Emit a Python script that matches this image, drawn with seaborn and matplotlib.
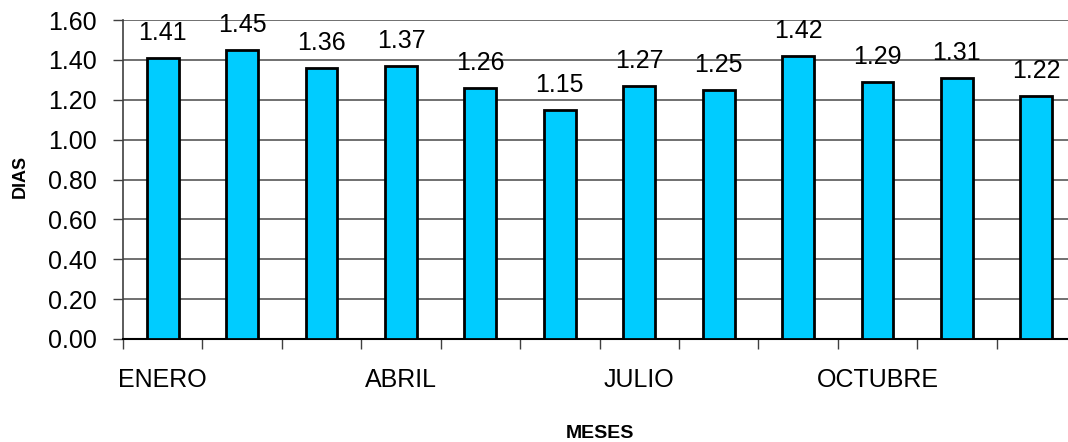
import pandas as pd
import numpy as np
import matplotlib
matplotlib.use("Agg")
import matplotlib.pyplot as plt
import seaborn as sns

# ── Data ─────────────────────────────────────────────────
meses = ["ENERO", "FEBRERO", "MARZO", "ABRIL", "MAYO", "JUNIO",
         "JULIO", "AGOSTO", "SEPTIEMBRE", "OCTUBRE", "NOVIEMBRE", "DICIEMBRE"]
dias = [1.41, 1.45, 1.36, 1.37, 1.26, 1.15, 1.27, 1.25, 1.42, 1.29, 1.31, 1.22]
etiquetas_x = ["ENERO", "ABRIL", "JULIO", "OCTUBRE"]
y_ticks = [0.0, 0.2, 0.4, 0.6, 0.8, 1.0, 1.2, 1.4, 1.6]

df = pd.DataFrame({"mes": meses, "dias": dias})

# ── Style ────────────────────────────────────────────────
sns.set_theme(style="white")
plt.rcParams["font.family"] = ["Liberation Sans", "DejaVu Sans"]
plt.rcParams["text.color"] = "black"
plt.rcParams["xtick.color"] = "black"
plt.rcParams["ytick.color"] = "black"

fig = plt.figure(figsize=(10.68, 4.42), dpi=100)
ax = fig.add_axes([123 / 1068, 103 / 442, 953 / 1068, 319 / 442])

sns.barplot(data=df, x="mes", y="dias", order=meses, color="#00CCFF",
            edgecolor="black", linewidth=2.0, width=0.4, saturation=1,
            ax=ax, zorder=3)

# value labels
for i, v in enumerate(dias):
    ax.annotate(f"{v:.2f}", (i, v), xytext=(0, 13), textcoords="offset points",
                ha="center", va="baseline", fontsize=18, color="black")

ax.set_xlim(-0.5, len(meses) - 0.5)
ax.set_ylim(0, 1.6)
ax.set_yticks(y_ticks)
ax.set_yticklabels([f"{t:.2f}" for t in y_ticks])
ax.yaxis.grid(True, color="#707070", lw=1.4, zorder=0)
ax.set_axisbelow(True)

# category axis: ticks between categories, labels every third month
ax.set_xticks(np.arange(-0.5, len(meses), 1.0))
ax.set_xticklabels([])
pos = [meses.index(m) for m in etiquetas_x]
ax.set_xticks(pos, minor=True)
ax.set_xticklabels(etiquetas_x, minor=True)
ax.tick_params(axis="x", which="major", direction="out", length=7, width=1,
               color="#404040", bottom=True)
ax.tick_params(axis="x", which="minor", length=0, pad=21, labelsize=18,
               labelcolor="black")
ax.tick_params(axis="y", direction="out", length=7, width=1, color="#404040",
               left=True, pad=12, labelsize=18, labelcolor="black")

for s in ["top", "right"]:
    ax.spines[s].set_visible(False)
ax.spines["left"].set_color("#404040")
ax.spines["left"].set_linewidth(1.2)
ax.spines["bottom"].set_color("black")
ax.spines["bottom"].set_linewidth(1.5)

ax.set_xlabel("")
ax.set_ylabel("")
fig.text(600 / 1068, 1 - 433 / 442, "MESES", ha="center", va="center",
         fontsize=14, fontweight="bold")
fig.text(20 / 1068, 1 - 176 / 442, "DIAS", ha="center", va="center",
         rotation=90, fontsize=13, fontweight="bold")

fig.savefig("out.png", dpi=100)
plt.close(fig)
